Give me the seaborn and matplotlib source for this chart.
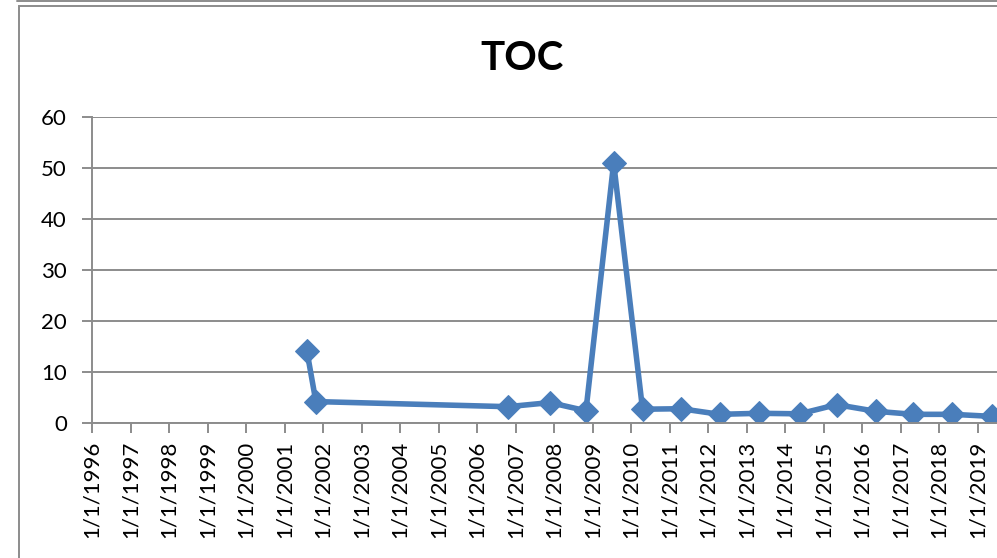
import matplotlib
matplotlib.use("Agg")
import matplotlib.pyplot as plt
from matplotlib.patches import Rectangle
from matplotlib.lines import Line2D
import seaborn as sns
import pandas as pd

# ---- data ----
dates = ["2001-08-01", "2001-10-25", "2006-10-20", "2007-11-25", "2008-10-30",
         "2009-07-20", "2010-04-20", "2011-04-20", "2012-04-20", "2013-05-01",
         "2014-05-20", "2015-05-05", "2016-05-10", "2017-05-01", "2018-05-08",
         "2019-05-15"]
toc = [14.1, 4.2, 3.2, 4.0, 2.4, 51.0, 2.7, 2.8, 1.7, 1.9, 1.8, 3.6, 2.3, 1.7, 1.7, 1.3]
years = list(range(1996, 2020))
tick_labels = [f"1/1/{y}" for y in years]
y_ticks = [0, 10, 20, 30, 40, 50, 60]
title = "TOC"

df = pd.DataFrame({"date": pd.to_datetime(dates), "TOC": toc})

sns.set_style("white")
plt.rcParams["font.family"] = ["Lato", "DejaVu Sans"]

W, H = 997, 558
fig = plt.figure(figsize=(W / 100, H / 100), dpi=100)

# axes geometry in pixels: left=92, top=117, bottom=423, one year = 38.5 px
left_px, top_px, bot_px = 92, 117, 423
year_px = 38.5
right_px = left_px + 24 * year_px  # 1/1/2020 (beyond the figure edge)
ax = fig.add_axes([left_px / W, 1 - bot_px / H, (right_px - left_px) / W, (bot_px - top_px) / H])

color = "#4A7EBB"
sns.lineplot(data=df, x="date", y="TOC", ax=ax, color=color, linewidth=4.0,
             marker="D", markersize=12, markeredgecolor=color, markerfacecolor=color)

ax.set_xlim(pd.Timestamp("1996-01-01"), pd.Timestamp("2020-01-01"))
ax.set_ylim(0, 60)
tick_dates = [pd.Timestamp(f"{y}-01-01") for y in years]
ax.set_xticks(tick_dates)
ax.set_xticklabels(tick_labels, rotation=90, fontsize=16)
ax.set_yticks(y_ticks)
ax.set_yticklabels([str(v) for v in y_ticks], fontsize=16)

ax.set_xlabel("")
ax.set_ylabel("")
ax.grid(axis="y", color="#8C8C8C", linewidth=1.4)
ax.grid(axis="x", visible=False)
ax.set_axisbelow(True)
for s in ["top", "right"]:
    ax.spines[s].set_visible(False)
for s in ["left", "bottom"]:
    ax.spines[s].set_color("#8C8C8C")
    ax.spines[s].set_linewidth(1.4)
ax.tick_params(axis="both", direction="out", length=7, width=1.4, color="#8C8C8C",
               colors="#000000", labelcolor="#000000", left=True, bottom=True)
ax.tick_params(axis="y", pad=11)
ax.tick_params(axis="x", pad=6)

fig.text(522 / W, 1 - 58 / H, title, ha="center", va="center", fontsize=29,
         fontweight="bold", color="#000000")

# chart border
fig.patches.append(Rectangle((19 / W, -0.1), 1.2, 1 + 0.1 - 6 / H, transform=fig.transFigure,
                             fill=False, edgecolor="#8C8C8C", linewidth=1.4))
fig.lines.append(Line2D([17 / W, 1], [1 - 0.7 / H, 1 - 0.7 / H], transform=fig.transFigure,
                        color="#8C8C8C", linewidth=1.4))

fig.savefig("out.png", dpi=100)
